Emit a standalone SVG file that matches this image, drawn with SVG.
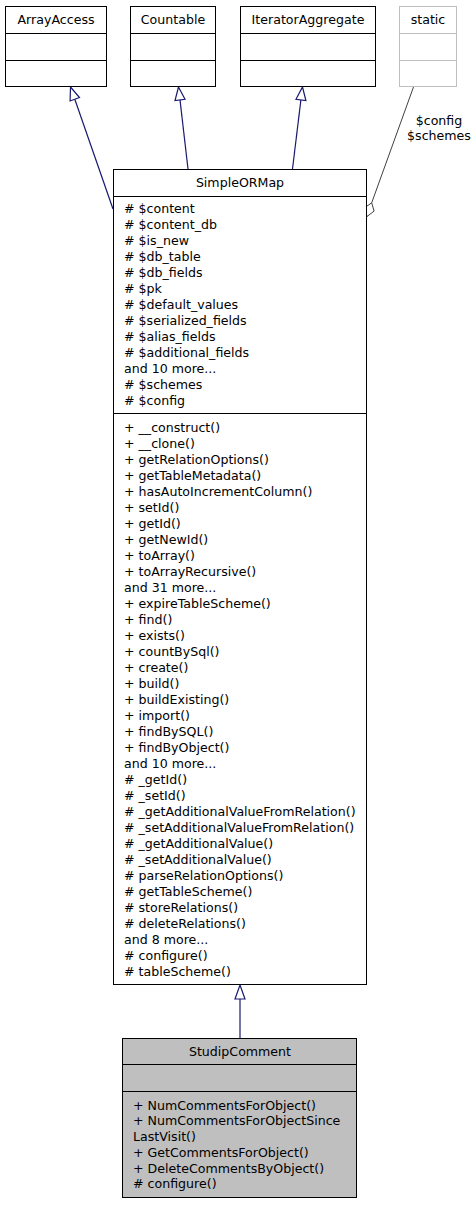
<svg xmlns="http://www.w3.org/2000/svg" width="476" height="1205" viewBox="0 0 476 1205">
<style>
text{font-family:"DejaVu Sans","Liberation Sans",sans-serif;font-size:12.6px;fill:#000}
.c{text-anchor:middle}
.box{fill:#fff;stroke:#000;stroke-width:1}
.gbox{fill:#fff;stroke:#bfbfbf;stroke-width:1}
.sel{fill:#bfbfbf;stroke:#000;stroke-width:1}
.ln{stroke:#000;stroke-width:1;fill:none}
.gln{stroke:#bfbfbf;stroke-width:1;fill:none}
.inh{stroke:#191970;stroke-width:1.2;fill:none}
.ah{stroke:#191970;stroke-width:1.2;fill:#fff}
.agg{stroke:#404040;stroke-width:1;fill:none}
.dia{stroke:#404040;stroke-width:1;fill:#fff}
</style>
<g id="connectors">
<path class="inh" d="M113,209 L74.8,99.3"/>
<polygon class="ah" points="70.5,87 79.5,97.6 70.1,101"/>
<path class="inh" d="M188,169 L180,99.9"/>
<polygon class="ah" points="178.5,87 185,99.3 175,100.5"/>
<path class="inh" d="M292.5,169 L300.9,99.9"/>
<polygon class="ah" points="302.5,87 305.9,100.5 296,99.3"/>
<path class="inh" d="M240,1038 L240,999"/>
<polygon class="ah" points="240,985 245,999 235,999"/>
<path class="agg" d="M413.5,87 L371.7,202.8"/>
<polygon class="dia" points="367,216.5 364.7,207.7 371.7,202.8 374.1,211.1"/>
<text class="c" x="439" y="124.5">$config</text>
<text class="c" x="439" y="140">$schemes</text>
</g>
<g id="ArrayAccess">
<rect class="box" x="5.5" y="6.5" width="101" height="80"/>
<path class="ln" d="M5.5,33.5 H106.5 M5.5,60.5 H106.5"/>
<text class="c" x="56" y="24">ArrayAccess</text>
</g>
<g id="Countable">
<rect class="box" x="130.5" y="6.5" width="85" height="80"/>
<path class="ln" d="M130.5,33.5 H215.5 M130.5,60.5 H215.5"/>
<text class="c" x="173" y="24">Countable</text>
</g>
<g id="IteratorAggregate">
<rect class="box" x="240.5" y="6.5" width="135" height="80"/>
<path class="ln" d="M240.5,33.5 H375.5 M240.5,60.5 H375.5"/>
<text class="c" x="308" y="24">IteratorAggregate</text>
</g>
<g id="static">
<rect class="gbox" x="399.5" y="6.5" width="57" height="80"/>
<path class="gln" d="M399.5,33.5 H456.5 M399.5,60.5 H456.5"/>
<text class="c" x="428" y="24">static</text>
</g>
<g id="SimpleORMap">
<rect class="box" x="113.5" y="169.5" width="253" height="815"/>
<path class="ln" d="M113.5,196.5 H366.5 M113.5,413.5 H366.5"/>
<text class="c" x="240" y="186.5">SimpleORMap</text>
<text x="124" y="212.5">
<tspan x="124" dy="0"># $content</tspan>
<tspan x="124" dy="16"># $content_db</tspan>
<tspan x="124" dy="16"># $is_new</tspan>
<tspan x="124" dy="16"># $db_table</tspan>
<tspan x="124" dy="16"># $db_fields</tspan>
<tspan x="124" dy="16"># $pk</tspan>
<tspan x="124" dy="16"># $default_values</tspan>
<tspan x="124" dy="16"># $serialized_fields</tspan>
<tspan x="124" dy="16"># $alias_fields</tspan>
<tspan x="124" dy="16"># $additional_fields</tspan>
<tspan x="124" dy="16">and 10 more...</tspan>
<tspan x="124" dy="16"># $schemes</tspan>
<tspan x="124" dy="16"># $config</tspan>
</text>
<text x="124" y="431.5">
<tspan x="124" dy="0">+ __construct()</tspan>
<tspan x="124" dy="16">+ __clone()</tspan>
<tspan x="124" dy="16">+ getRelationOptions()</tspan>
<tspan x="124" dy="16">+ getTableMetadata()</tspan>
<tspan x="124" dy="16">+ hasAutoIncrementColumn()</tspan>
<tspan x="124" dy="16">+ setId()</tspan>
<tspan x="124" dy="16">+ getId()</tspan>
<tspan x="124" dy="16">+ getNewId()</tspan>
<tspan x="124" dy="16">+ toArray()</tspan>
<tspan x="124" dy="16">+ toArrayRecursive()</tspan>
<tspan x="124" dy="16">and 31 more...</tspan>
<tspan x="124" dy="16">+ expireTableScheme()</tspan>
<tspan x="124" dy="16">+ find()</tspan>
<tspan x="124" dy="16">+ exists()</tspan>
<tspan x="124" dy="16">+ countBySql()</tspan>
<tspan x="124" dy="16">+ create()</tspan>
<tspan x="124" dy="16">+ build()</tspan>
<tspan x="124" dy="16">+ buildExisting()</tspan>
<tspan x="124" dy="16">+ import()</tspan>
<tspan x="124" dy="16">+ findBySQL()</tspan>
<tspan x="124" dy="16">+ findByObject()</tspan>
<tspan x="124" dy="16">and 10 more...</tspan>
<tspan x="124" dy="16"># _getId()</tspan>
<tspan x="124" dy="16"># _setId()</tspan>
<tspan x="124" dy="16"># _getAdditionalValueFromRelation()</tspan>
<tspan x="124" dy="16"># _setAdditionalValueFromRelation()</tspan>
<tspan x="124" dy="16"># _getAdditionalValue()</tspan>
<tspan x="124" dy="16"># _setAdditionalValue()</tspan>
<tspan x="124" dy="16"># parseRelationOptions()</tspan>
<tspan x="124" dy="16"># getTableScheme()</tspan>
<tspan x="124" dy="16"># storeRelations()</tspan>
<tspan x="124" dy="16"># deleteRelations()</tspan>
<tspan x="124" dy="16">and 8 more...</tspan>
<tspan x="124" dy="16"># configure()</tspan>
<tspan x="124" dy="16"># tableScheme()</tspan>
</text>
</g>
<g id="StudipComment">
<rect class="sel" x="122.5" y="1038.5" width="234" height="159"/>
<path class="ln" d="M122.5,1064.5 H356.5 M122.5,1091.5 H356.5"/>
<text class="c" x="240" y="1056">StudipComment</text>
<text x="133" y="1109.5">
<tspan x="133" dy="0">+ NumCommentsForObject()</tspan>
<tspan x="133" dy="15.75">+ NumCommentsForObjectSince</tspan>
<tspan x="133" dy="15.75">LastVisit()</tspan>
<tspan x="133" dy="15.75">+ GetCommentsForObject()</tspan>
<tspan x="133" dy="15.75">+ DeleteCommentsByObject()</tspan>
<tspan x="133" dy="15.75"># configure()</tspan>
</text>
</g>
</svg>
